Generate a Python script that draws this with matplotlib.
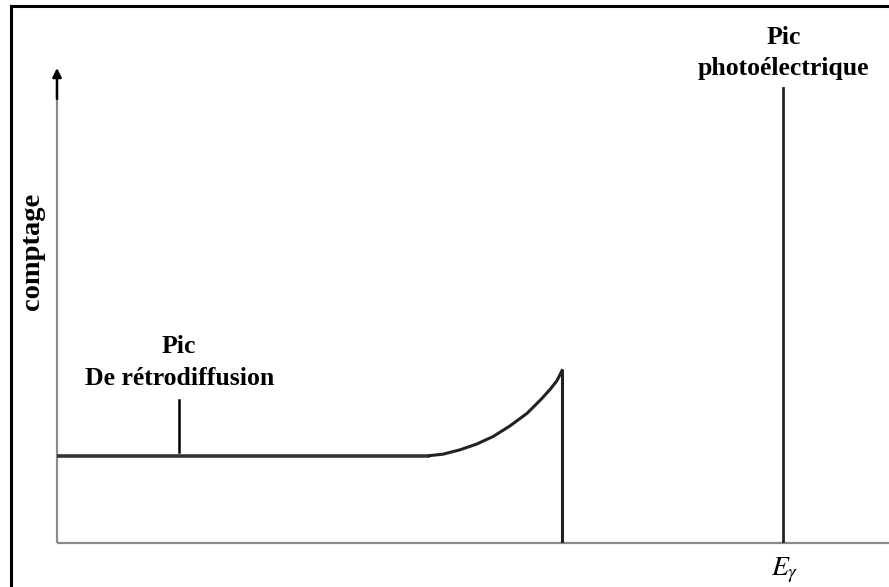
import matplotlib
matplotlib.use("Agg")
import matplotlib.pyplot as plt
from matplotlib.lines import Line2D

# Schematic gamma spectrum (arbitrary units)
plateau_x = [0.0, 44.8]
plateau_y = [18.4, 18.4]
edge_x = [44.8, 46.4, 48.4, 50.4, 52.4, 54.4, 56.5, 58.1, 59.3, 60.1, 60.7]
edge_y = [18.4, 18.7, 19.6, 20.8, 22.4, 24.6, 27.3, 30.1, 32.4, 34.2, 36.3]
compton_edge = 60.7
photo_peak_x = 87.3
photo_peak_h = 95.8
backscatter_x = 14.7
backscatter_tick = [19.2, 30.1]

W, H = 889, 587
fig = plt.figure(figsize=(W / 100, H / 100), dpi=100)
ax = fig.add_axes([57 / W, (H - 543) / H, (W - 57) / W, (543 - 68) / H])
ax.set_xlim(0, 100)
ax.set_ylim(0, 100)
ax.axis("off")

axis_col = "#8a8a8a"
line_col = "#222222"

# axes
ax.plot([0, 100], [0, 0], color=axis_col, lw=1.6, clip_on=False, solid_capstyle="butt")
ax.plot([0, 0], [0, 97], color=axis_col, lw=1.6, clip_on=False, solid_capstyle="butt")
ax.annotate("", xy=(0, 100), xytext=(0, 93.5),
            arrowprops=dict(arrowstyle="-|>", color="black", lw=1.8,
                            mutation_scale=13, shrinkA=0, shrinkB=0),
            annotation_clip=False)

# Compton continuum
ax.plot(plateau_x, plateau_y, color="#333333", lw=2.6, solid_capstyle="butt")
ax.plot(edge_x, edge_y, color=line_col, lw=2.2, solid_joinstyle="round")
ax.plot([compton_edge, compton_edge], [0, edge_y[-1]], color=line_col, lw=2.2)

# photopeak
ax.plot([photo_peak_x, photo_peak_x], [0, photo_peak_h], color=line_col, lw=2.0)

# backscatter marker
ax.plot([backscatter_x, backscatter_x], backscatter_tick, color="black", lw=1.8)

serif = ["Liberation Serif", "DejaVu Serif"]
fs = 18.5
ax.text(backscatter_x, 32.2, "Pic\nDe rétrodiffusion", ha="center", va="bottom",
        fontsize=fs, fontweight="bold", family=serif, linespacing=1.5)
ax.text(photo_peak_x, 97.5, "Pic\nphotoélectrique", ha="center", va="bottom",
        fontsize=fs, fontweight="bold", family=serif, linespacing=1.45,
        clip_on=False)

plt.rcParams["mathtext.fontset"] = "stix"
fig.text(785 / W, 1 - 570 / H, r"$E_\gamma$", ha="center", va="center", fontsize=20)
fig.text(32 / W, 1 - 251 / H, "comptage", rotation=90, ha="center", va="center",
         fontsize=20.5, fontweight="bold", family=serif)

# frame around the figure
fig.add_artist(Line2D([10.5 / W, 10.5 / W], [0, 1 - 6 / H], color="black", lw=2.2,
                      transform=fig.transFigure))
fig.add_artist(Line2D([10.5 / W, 1], [1 - 6 / H, 1 - 6 / H], color="black", lw=2.2,
                      transform=fig.transFigure))

fig.savefig("out.png", dpi=100, facecolor="white")
